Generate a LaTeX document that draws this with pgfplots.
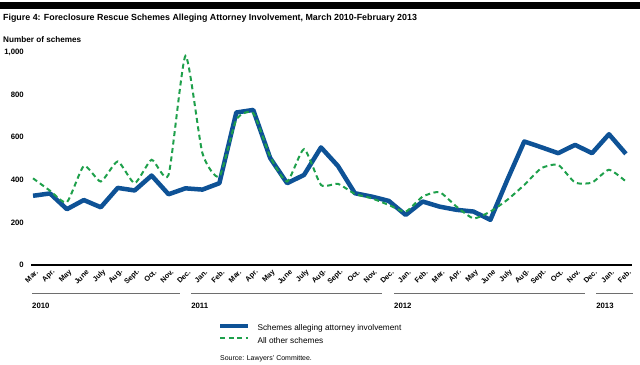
\documentclass[border=0pt]{standalone}
\usepackage{fontspec}
\setmainfont{Liberation Sans}
\usepackage{pgfplots}
\pgfplotsset{compat=1.18}
\definecolor{schblue}{RGB}{14,82,150}
\definecolor{schgreen}{RGB}{30,160,75}
\definecolor{yrline}{RGB}{110,110,110}
\begin{document}
\begin{tikzpicture}
\path[use as bounding box] (0,0) rectangle (640bp,-365bp);
\fill[black] (0,-2bp) rectangle (640bp,-9bp);
\node[anchor=west, font=\bfseries\fontsize{8.9}{10}\selectfont, inner sep=0] at (3bp,-18bp) {Figure 4: Foreclosure Rescue Schemes Alleging Attorney Involvement, March 2010-February 2013};
\node[anchor=west, font=\bfseries\fontsize{8.2}{9}\selectfont, inner sep=0] at (3bp,-39.5bp) {Number of schemes};
\begin{axis}[
  at={(31bp,-265bp)}, anchor=south west,
  scale only axis, width=601bp, height=213bp,
  xmin=-0.12, xmax=35.36, ymin=0, ymax=1000,
  axis x line*=bottom, axis y line*=left,
  y axis line style={draw=none},
  x axis line style={line width=2bp, black},
  major tick length=0pt,
  ytick={0,200,400,600,800,1000},
  yticklabels={0,200,400,600,800,{1,000}},
  yticklabel style={font=\bfseries\fontsize{7.8}{9}\selectfont, anchor=east, inner sep=0pt, xshift=-7bp},
  xtick={0,1,...,35},
  xticklabels={Mar.,Apr.,May,June,July,Aug.,Sept.,Oct.,Nov.,Dec.,Jan.,Feb.,Mar.,Apr.,May,June,July,Aug.,Sept.,Oct.,Nov.,Dec.,Jan.,Feb.,Mar.,Apr.,May,June,July,Aug.,Sept.,Oct.,Nov.,Dec.,Jan.,Feb.},
  xticklabel style={font=\bfseries\fontsize{7.3}{8}\selectfont, rotate=45, anchor=east, inner sep=0pt, yshift=-7bp, xshift=-1.5bp},
  clip=false,
  legend cell align=left,
  legend style={at={(axis description cs:0.3112,-0.275)}, anchor=north west, draw=none, fill=none,
    inner sep=0pt, outer sep=0pt,
    font=\fontsize{8.3}{9}\selectfont, row sep=5bp,
    nodes={inner sep=0pt, text height=6bp, text depth=1.5bp},
    /tikz/every odd column/.append style={column sep=7bp}},
  legend image code/.code={\draw[#1] (0bp,2.8bp) -- (28bp,2.8bp);},
]
\addplot[schblue, line width=4.5bp, line join=round] coordinates {
(0,325) (1,336) (2,262) (3,305) (4,271) (5,362) (6,350) (7,420) (8,332) (9,360)
(10,354) (11,384) (12,716) (13,728) (14,502) (15,384) (16,423) (17,552) (18,465) (19,337)
(20,321) (21,301) (22,235) (23,298) (24,274) (25,259) (26,251) (27,212) (28,400) (29,580)
(30,553) (31,525) (32,564) (33,525) (34,614) (35,522)};
\addlegendentry{Schemes alleging attorney involvement}
\addplot[schgreen, line width=2bp, dash pattern=on 5bp off 3.5bp, smooth, tension=0.35] coordinates {
(0,407) (1,349) (2,295) (3,465) (4,392) (5,486) (6,384) (7,494) (8,423) (9,982)
(10,525) (11,415) (12,682) (13,713) (14,509) (15,392) (16,544) (17,376) (18,381) (19,334)
(20,313) (21,282) (22,251) (23,321) (24,342) (25,274) (26,219) (27,251) (28,306) (29,376)
(30,454) (31,470) (32,387) (33,387) (34,447) (35,392)};
\addlegendentry{All other schemes}
\draw[yrline, line width=1bp] (axis cs:-0.06,-136) -- (axis cs:8.68,-136);
\draw[yrline, line width=1bp] (axis cs:9.33,-136) -- (axis cs:20.6,-136);
\draw[yrline, line width=1bp] (axis cs:21.31,-136) -- (axis cs:32.59,-136);
\draw[yrline, line width=1bp] (axis cs:33.24,-136) -- (axis cs:35.42,-136);
\node[anchor=west, font=\bfseries\fontsize{7.8}{9}\selectfont, inner sep=0pt] at (axis cs:-0.06,-192) {2010};
\node[anchor=west, font=\bfseries\fontsize{7.8}{9}\selectfont, inner sep=0pt] at (axis cs:9.33,-192) {2011};
\node[anchor=west, font=\bfseries\fontsize{7.8}{9}\selectfont, inner sep=0pt] at (axis cs:21.31,-192) {2012};
\node[anchor=west, font=\bfseries\fontsize{7.8}{9}\selectfont, inner sep=0pt] at (axis cs:33.24,-192) {2013};
\node[anchor=west, font=\fontsize{7}{8}\selectfont, inner sep=0pt] at (axis description cs:0.3145,-0.44) {Source: Lawyers’ Committee.};
\end{axis}
\end{tikzpicture}
\end{document}
